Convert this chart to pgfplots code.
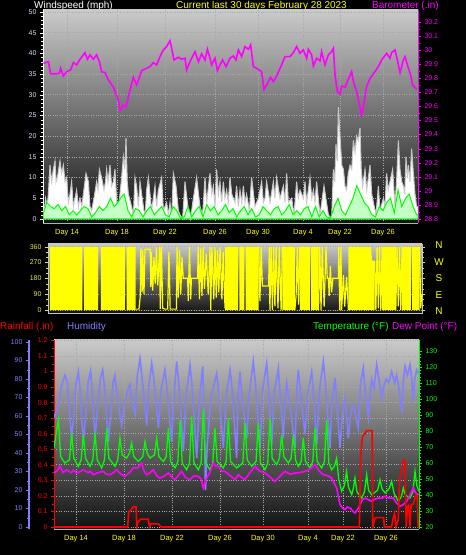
\documentclass[border=0pt]{standalone}
\usepackage{fontspec}
\setmainfont{Liberation Sans}
\usepackage{pgfplots}
\pgfplotsset{compat=1.18}

\definecolor{mag}{HTML}{FF00FF}
\definecolor{hum}{HTML}{8080FF}
\definecolor{tmp}{HTML}{00FF00}
\definecolor{rain}{HTML}{FF0000}
\definecolor{gridc}{HTML}{A8A8A8}
\definecolor{bgtop}{HTML}{CACACA}
\definecolor{bgbot}{HTML}{121212}
\definecolor{windavg}{HTML}{C4FFC4}
\definecolor{gustedge}{HTML}{C8C8C8}
\definecolor{daylab}{HTML}{FFFF00}
\definecolor{dirlab}{HTML}{E8E840}

\pgfplotsset{
  base/.style={
    scale only axis, xmin=0, xmax=30,
    /pgf/number format/assume math mode=true,
    tick label style={font=\fontsize{7}{8}\selectfont},
    tick align=outside,
    major tick length=3bp, minor tick length=2bp,
  },
  bgshade/.style={axis background/.style={shade, top color=bgtop, bottom color=bgbot}},
  dotgrid/.style={grid=major, major grid style={gridc, dotted, line width=0.6bp}},
  daylabels/.style={
    xticklabel style={daylab, font=\fontsize{7.5}{8}\selectfont},
    x tick style={draw=none},
  },
}

\begin{document}
\begin{tikzpicture}
\fill[black] (0,0) rectangle (466bp,555bp);

% ---- titles ----
\node[anchor=base west, white, font=\fontsize{10}{12}\selectfont, inner sep=0] at (34bp,546.5bp) {Windspeed (mph)};
\node[anchor=base, daylab, font=\fontsize{10}{12}\selectfont, inner sep=0] at (261.5bp,546.5bp) {Current last 30 days February 28 2023};
\node[anchor=base west, mag, font=\fontsize{10}{12}\selectfont, inner sep=0] at (372bp,546.5bp) {Barometer (.in)};

\node[anchor=base west, rain, font=\fontsize{10}{12}\selectfont, inner sep=0] at (0bp,225bp) {Rainfall (.in)};
\node[anchor=base west, hum, font=\fontsize{10}{12}\selectfont, inner sep=0] at (67bp,225bp) {Humidity};
\node[anchor=base west, tmp, font=\fontsize{10}{12}\selectfont, inner sep=0] at (313bp,225bp) {Temperature (°F)};
\node[anchor=base west, mag, font=\fontsize{10}{12}\selectfont, inner sep=0] at (392bp,225bp) {Dew Point (°F)};

\foreach \lab/\yy in {N/310,W/293,S/277,E/260,N/244}
  \node[daylab, font=\fontsize{10}{12}\selectfont, inner sep=0] at (439bp,\yy bp) {\lab};

% ---- wind speed ----
\begin{axis}[base, bgshade, dotgrid, daylabels,
  at={(43bp,332bp)}, anchor=south west, width=375bp, height=213bp,
  ymin=-0.97, ymax=50.48, ytick={0,5,...,50}, minor y tick num=4,
  axis x line*=bottom, axis y line*=left,
  x axis line style={gray!60!white, -}, y axis line style={white, -},
  xtick={1.92,5.92,9.76,13.76,17.2,20.8,23.76,27.2},
  xticklabels={Day 14,Day 18,Day 22,Day 26,Day 30,Day 4,Day 22,Day 26},
  yticklabel style={white!85!blue}, y tick style={white},
]
% gusts
\addplot[fill=white, draw=gustedge, line width=1bp] coordinates {
(0.03,0)(0.21,5)(0.33,3)(0.43,6)(0.56,13)(0.69,9)(0.83,12)(0.96,14)(1.05,9)(1.15,10)(1.36,14)(1.49,11)
(1.63,13)(1.76,9)(1.89,10)(2.03,4)(2.16,6)(2.29,9)(2.43,3)(2.56,5)(2.69,7)(2.83,3)(2.96,5)
(3.1,3)(3.23,6)(3.44,11)(3.63,9)(3.76,3)(3.89,2)(4.08,5)(4.29,9)(4.4,7)(4.51,12)(4.69,10)(4.88,7)
(5.0,9)(5.09,12)(5.2,9)(5.36,13)(5.49,8)(5.63,9)(5.76,12)(5.9,4)(6.03,2)(6.16,6)(6.29,10)(6.43,15)(6.55,12)(6.64,19.5)
(6.74,9)(6.83,6)(7.09,3)(7.23,1)(7.36,10)(7.49,8)(7.63,3)(7.76,9)(8.03,3)(8.16,0)(8.29,7)
(8.43,10)(8.69,2)(8.96,8)(9.09,3)(9.23,7)(9.49,10)(9.63,2)(9.89,4)(10.03,1)(10.16,4)
(10.29,0)(10.43,11)(10.64,8)(10.83,2)(10.96,1)(11.17,0)(11.36,9)(11.63,2)(11.81,0)(12.03,5)
(12.29,10)(12.56,3)(12.77,1)(12.96,10)(13.09,4)(13.36,11)(13.5,6)(13.63,8)(13.76,3)(13.89,12)(14.03,6)(14.16,9)
(14.29,4)(14.43,9)(14.55,5)(14.69,7)(14.82,4)(14.96,10)(15.1,6)(15.23,5)(15.36,4)(15.49,8)(15.63,3)(15.76,7)(15.9,4)(16.03,8)(16.16,4)(16.29,6)
(16.51,2)(16.69,10)(16.96,3)(17.23,5)(17.49,9)(17.63,4)(17.76,5)(17.89,9)(18.16,4)(18.43,9)(18.55,5)(18.69,10)
(18.96,5)(19.23,8)(19.36,4)(19.49,11)(19.63,4)(19.89,5)(20.08,1)(20.29,9)(20.42,5)(20.56,7)(20.83,5)(20.96,9)
(21.09,4)(21.36,10)(21.5,5)(21.63,7)(21.76,4)(21.89,9)(22.16,1)(22.48,8)(22.83,1)(23.09,0)(23.23,12)(23.34,9)(23.44,18)(23.54,14)
(23.63,27)(23.76,20)(23.9,13)(24.03,12)(24.16,8)(24.29,7)(24.42,11)(24.56,13)(24.7,12)(24.83,19)(24.96,16)(25.09,20)(25.22,19)(25.36,22)(25.46,12)(25.57,8)(25.76,12)
(25.9,7)(26.03,10)(26.16,13)(26.3,6)(26.43,4)(26.64,1)(26.83,8)(26.96,2)(27.23,5)(27.36,3)(27.49,11)(27.62,7)(27.76,9)(27.97,12)
(28.16,3)(28.3,10)(28.43,19)(28.56,12)(28.7,9)(28.83,8)(28.94,6)(29.04,15)(29.14,10)(29.23,13)(29.36,9)(29.49,17)(29.63,11)(29.76,6)(29.89,3)(30,3)
} \closedcycle;
% average wind
\addplot[fill=windavg, draw=tmp, line width=1bp] coordinates {
(0,1)(0.3,4)(0.6,3)(0.9,2.5)(1.2,3.5)(1.5,2)(1.8,3)(2.1,1)(2.4,2)(2.7,1)
(3.0,2)(3.3,3)(3.6,2.5)(3.9,0.5)(4.2,1.5)(4.5,3)(4.8,2)(5.1,3)(5.4,5)(5.7,3)
(6.0,4)(6.3,5.5)(6.5,6)(6.8,2)(7.1,0.5)(7.4,2.5)(7.7,2)(8.0,0.5)(8.3,2)(8.6,3)
(8.9,1)(9.2,2)(9.5,3)(9.8,1)(10.1,0.5)(10.4,3)(10.7,2)(11.0,0.2)(11.3,0.5)(11.6,3)
(11.9,0.5)(12.2,2)(12.5,3)(12.8,0.5)(13.1,3.5)(13.4,2)(13.7,3)(14.0,1)(14.3,2)(14.6,3.5)
(14.9,1.5)(15.2,2.5)(15.5,0.5)(15.8,2)(16.1,3)(16.4,1)(16.7,2.5)(17.0,0.5)(17.3,1)(17.6,3)
(17.9,2)(18.2,1)(18.5,2.5)(18.8,3)(19.1,1)(19.4,2)(19.7,3.5)(20.0,1)(20.3,2)(20.6,1)
(20.9,2.5)(21.2,3)(21.5,0.5)(21.8,3)(22.1,0.5)(22.4,2)(22.7,0.5)(23.0,0.2)(23.3,3)(23.6,5)
(23.9,2)(24.2,1)(24.5,3)(24.8,5)(25.1,8)(25.4,6)(25.7,4)(26.0,3)(26.3,1)(26.6,0.5)
(26.9,3)(27.2,2)(27.5,4)(27.8,5)(28.1,1.5)(28.4,7)(28.7,3)(29.0,5)(29.3,6)(29.6,3)(29.9,1)(30,1)
} \closedcycle;
\end{axis}

% ---- barometer ----
\begin{axis}[base,
  at={(43bp,332bp)}, anchor=south west, width=375bp, height=213bp,
  ymin=28.7716, ymax=30.285,
  axis y line*=right, axis x line=none,
  ytick={28.8,28.9,29.0,29.1,29.2,29.3,29.4,29.5,29.6,29.7,29.8,29.9,30.0,30.1,30.2},
  yticklabels={28.8,28.9,29,29.1,29.2,29.3,29.4,29.5,29.6,29.7,29.8,29.9,30,30.1,30.2},
  minor y tick num=1,
  yticklabel style={mag}, y axis line style={mag, -}, y tick style={mag},
]
\addplot[mag, line width=1.6bp] coordinates {
(0.03,29.906)(0.43,29.918)(0.61,29.831)(0.96,29.831)(1.31,29.835)(1.41,29.871)(1.63,29.816)(1.89,29.847)
(2.21,29.859)(2.43,29.911)(2.69,29.895)(2.96,29.935)(3.36,29.982)(3.55,29.935)(3.76,29.966)(4.03,29.935)
(4.29,29.966)(4.51,29.918)(4.69,29.847)(4.96,29.840)(5.23,29.788)(5.63,29.736)(6.03,29.646)(6.16,29.570)
(6.43,29.610)(6.64,29.598)(6.83,29.669)(7.23,29.807)(7.49,29.752)(7.89,29.854)(8.29,29.871)(8.56,29.883)
(8.83,29.911)(9.09,29.895)(9.36,29.954)(9.63,30.001)(9.89,30.025)(10.16,30.067)(10.29,30.013)(10.48,29.930)
(10.83,29.949)(11.09,29.935)(11.36,29.942)(11.49,29.859)(11.76,29.918)(12.16,29.989)(12.43,29.918)(12.69,29.973)
(12.96,29.930)(13.15,30.006)(13.36,29.942)(13.49,29.895)(13.76,29.942)(13.95,29.854)(14.16,29.895)(14.37,29.930)
(14.64,29.883)(14.96,29.942)(15.23,29.958)(15.44,29.930)(15.63,30.001)(15.89,29.954)(16.16,30.025)(16.43,30.006)
(16.61,30.037)(16.83,29.883)(17.09,29.871)(17.49,29.847)(17.68,29.722)(17.89,29.752)(18.21,29.807)(18.43,29.776)
(18.69,29.816)(19.09,29.895)(19.36,29.954)(19.76,29.954)(20.03,29.982)(20.29,30.025)(20.56,29.977)(20.83,30.001)
(21.09,29.942)(21.23,30.006)(21.49,29.966)(21.63,29.887)(21.89,29.942)(22.16,29.925)(22.29,29.989)(22.56,29.895)
(22.83,29.966)(23.09,29.989)(23.23,30.013)(23.36,29.823)(23.55,29.705)(23.76,29.688)(23.89,29.745)(24.16,29.736)
(24.43,29.793)(24.69,29.847)(24.83,29.776)(25.09,29.705)(25.49,29.539)(25.63,29.598)(25.89,29.741)(26.16,29.800)
(26.56,29.847)(26.83,29.883)(27.09,29.930)(27.49,29.977)(27.76,29.942)(27.89,29.982)(28.16,30.001)(28.35,29.930)
(28.56,29.840)(28.83,29.930)(28.96,29.954)(29.15,29.895)(29.41,29.823)(29.57,29.752)(29.89,29.722)
};
\end{axis}

% ---- wind direction ----
\begin{axis}[base, bgshade, dotgrid,
  at={(48bp,242bp)}, anchor=south west, width=374bp, height=69bp,
  ymin=-17, ymax=375, ytick={0,90,180,270,360}, minor y tick num=2,
  xtick=\empty,
  axis line style={gray!45, -},
  yticklabel style={dirlab}, y tick style={dirlab},
]
\addplot[fill=daylab, draw=none] coordinates {
(0.16,0)(0.16,358)(2.75,358)(2.75,0)(2.9,0)(2.9,358)(4.03,358)(4.03,0)(4.25,0)(4.25,358)
(6.17,358)(6.17,0)(6.3,0)(6.3,358)(7.03,358)(7.03,0)(14.2,0)(14.2,358)(15.25,358)(15.25,0)
(15.35,0)(15.35,358)(15.75,358)(15.75,0)(15.85,0)(15.85,358)(16.9,358)(16.9,0)(18.8,0)(18.8,358)
(19.8,358)(19.8,0)(20.2,0)(20.2,358)(21.0,358)(21.0,0)(21.1,0)(21.1,358)(21.7,358)(21.7,0)
(24.1,0)(24.1,358)(25.9,358)(26.0,280)(26.2,280)(26.2,0)(26.8,0)(26.8,358)(27.9,358)(27.9,0)
(28.4,0)(28.4,358)(29.1,358)(29.1,0)(29.2,0)(29.2,358)(29.8,358)(29.8,0)
} \closedcycle;
\addplot[daylab, line width=1.2bp] coordinates {
(7.03,5)(7.3,5)(7.4,80)(7.45,350)(7.55,100)(7.6,340)(7.7,90)(7.78,345)(8.2,345)(8.25,130)
(8.3,330)(8.4,110)(8.5,300)(8.6,150)(8.7,355)(8.8,140)(8.96,358)(9.0,5)(9.1,358)(9.2,10)
(9.36,5)(9.6,5)(9.7,330)(9.8,5)(10.3,5)(10.35,358)(10.45,70)(10.55,340)(10.65,90)(10.75,300)
(10.85,180)(11.2,180)(11.25,50)(11.35,358)(11.45,60)(11.5,180)(12.0,180)(12.05,358)(12.15,60)(12.25,350)
(12.35,80)(12.45,358)(12.55,120)(12.7,320)(12.85,90)(13.0,358)(13.05,0)(13.15,358)(13.3,60)(13.4,358)
(13.5,70)(13.6,340)(13.7,100)(13.8,358)(13.95,60)(14.05,330)(14.2,10)
};
\addplot[daylab, line width=1.2bp] coordinates {
(16.9,358)(17.0,50)(17.1,358)(17.2,136)(17.7,136)(17.75,358)(17.8,0)(17.9,358)(18.0,0)(18.1,358)
(18.2,20)(18.3,358)(18.45,10)(18.55,358)(18.7,0)(18.8,358)
};
\addplot[daylab, line width=1.2bp] coordinates {
(19.8,0)(19.9,80)(20.0,358)(20.1,30)(20.2,358)
};
\addplot[daylab, line width=1.2bp] coordinates {
(21.7,0)(21.8,358)(21.9,0)(22.0,358)(22.15,20)(22.3,358)(22.4,180)(22.5,180)(22.55,80)(22.65,250)
(22.75,100)(22.85,180)(23.3,180)(23.32,358)(23.4,0)(23.5,358)(23.55,0)(23.7,200)(23.8,20)(23.95,190)(24.1,0)
};
\addplot[daylab, line width=1.2bp] coordinates {
(26.2,280)(26.3,0)(26.4,358)(26.5,10)(26.6,358)(26.7,0)(26.8,358)
};
\addplot[daylab, line width=1.2bp] coordinates {
(27.9,0)(28.0,358)(28.1,20)(28.2,358)(28.3,0)(28.4,358)
};
\addplot[daylab, line width=1.2bp] coordinates {
(29.8,358)(29.9,10)(29.97,90)
};
\end{axis}

% ---- bottom panel: rain axis, background, grid ----
\begin{axis}[base, bgshade, dotgrid, daylabels,
  at={(54bp,26bp)}, anchor=south west, width=365bp, height=189bp,
  ymin=-0.0129, ymax=1.2026,
  ytick={0,0.1,0.2,0.3,0.4,0.5,0.6,0.7,0.8,0.9,1.0,1.1,1.2},
  yticklabels={0,0.1,0.2,0.3,0.4,0.5,0.6,0.7,0.8,0.9,1,1.1,1.2},
  minor y tick num=1,
  axis x line*=bottom, axis y line*=left,
  x axis line style={gray!60!white, -}, y axis line style={rain, line width=1bp, -},
  xtick={1.81,5.75,9.70,13.64,17.17,20.87,23.75,27.28},
  xticklabels={Day 14,Day 18,Day 22,Day 26,Day 30,Day 4,Day 22,Day 26},
  yticklabel style={rain}, y tick style={rain},
]
\end{axis}

% humidity scale at the far left
\begin{axis}[base,
  at={(29bp,26bp)}, anchor=south west, width=1bp, height=189bp,
  xmin=0, xmax=1, ymin=-1.08, ymax=101.1,
  ytick={0,10,...,100}, minor y tick num=1,
  axis y line*=left, axis x line=none,
  y axis line style={hum, line width=1.5bp, -},
  yticklabel style={hum}, y tick style={hum},
]
\end{axis}

% humidity data
\begin{axis}[base, hide axis,
  at={(54bp,26bp)}, anchor=south west, width=365bp, height=189bp,
  ymin=-1.08, ymax=101.1,
]
\addplot[hum, line width=1.6bp] coordinates {
(0,59)(0.15,62)(0.36,66)(0.6,76)(0.9,82)(1.1,78)(1.3,60)(1.45,48)(1.6,58)(1.8,77)(2.0,84)(2.15,74)(2.3,56)(2.41,46)
(2.6,60)(2.8,78)(3.01,84.5)(3.15,72)(3.37,48)(3.55,62)(3.8,80)(4.0,85)(4.2,72)(4.47,46)(4.65,60)
(4.85,78)(5.01,82)(5.2,70)(5.56,55)(5.8,68)(5.97,71.5)(6.1,75)(6.25,77)(6.35,70)(6.47,66)(6.66,61)(6.85,82)(7.07,91)(7.25,80)(7.62,55)
(7.8,76)(8.03,88.6)(8.2,80)(8.58,53.5)(8.8,74)(9.12,85)(9.3,74)(9.67,46)(9.85,70)(10.08,89.5)(10.25,78)(10.63,41)
(10.85,70)(11.18,87.7)(11.35,76)(11.73,37.3)(11.95,68)(12.22,86.8)(12.35,60)(12.45,20)(12.6,45)(12.9,70)(13.37,83)(13.55,72)
(13.92,42.7)(14.15,70)(14.47,85)(14.65,74)(15.01,37.3)(15.12,70)(15.29,84)(15.45,70)(15.84,48)(16.05,72)(16.38,89.5)(16.55,78)
(16.93,42.7)(17.15,74)(17.48,88.6)(17.62,76)(17.89,44.5)(18.1,72)(18.44,86)(18.6,70)(18.85,48)(19.0,70)(19.12,77.8)(19.4,66)
(19.81,42.7)(19.95,74)(20.08,85)(20.3,70)(20.63,50)(20.85,72)(21.18,84)(21.35,70)(21.59,44.5)(21.85,76)(22.14,89.5)(22.3,78)
(22.68,42.7)(22.85,68)(23.1,80.5)(23.25,66)(23.51,42.7)(23.7,60)(23.92,69.7)(24.05,60)(24.19,48)(24.4,62)(24.6,66)(24.8,60)
(25.0,53.5)(25.2,78)(25.42,86)(25.6,72)(25.84,59)(26.1,80)(26.3,75)(26.52,87.7)(26.7,80)(26.93,69.7)(27.1,76)
(27.3,80)(27.5,78)(27.75,84)(28.0,78)(28.15,82)(28.3,77)(28.45,70)(28.58,61.6)(28.7,78)(28.85,86.8)(29.05,82)(29.26,87.7)(29.4,80)(29.53,68)
(29.65,80)(29.81,85)(30,83)
};
\end{axis}

% temperature and dew point
\begin{axis}[base,
  at={(54bp,26bp)}, anchor=south west, width=365bp, height=189bp,
  ymin=18.75, ymax=136.9, ytick={20,30,...,130}, minor y tick num=4,
  axis y line*=right, axis x line=none,
  y axis line style={tmp, -}, yticklabel style={tmp}, y tick style={tmp},
]
\addplot[tmp, line width=1.3bp] coordinates {
(0,69)(0.2,80)(0.36,87)(0.55,64)(0.9,60)(1.27,62)(1.45,78.8)(1.63,63)(2.0,57.9)(2.23,62)
(2.41,77.7)(2.59,63)(2.96,57.9)(3.19,62)(3.37,78.8)(3.55,62)(3.92,56.9)(4.15,62)(4.33,81.9)(4.51,63)
(5.01,57.9)(5.24,62)(5.42,75.6)(5.6,65)(5.97,63.1)(6.2,66)(6.38,72.5)(6.56,64)(6.93,61)(7.3,64)
(7.48,73.5)(7.66,66)(7.89,63.1)(8.26,65)(8.44,75.6)(8.62,64)(8.99,61)(9.22,64)(9.4,81.9)(9.58,61)
(9.95,56.9)(10.18,61)(10.36,87)(10.54,60)(10.9,55.8)(11.14,60)(11.32,89.2)(11.5,60)(11.86,55.8)(12.09,60)
(12.27,93.3)(12.45,60)(12.82,55.8)(13.05,60)(13.23,81.9)(13.41,61)(13.92,56.9)(14.15,61)(14.33,88)(14.51,61)
(15.01,56.9)(15.52,60)(15.7,85)(15.88,62)(16.25,57.9)(16.61,61)(16.79,85)(16.97,60)(17.34,55.8)(17.57,60)
(17.75,88)(17.93,63)(18.3,59)(18.53,63)(18.71,77.7)(18.89,64)(19.26,60)(19.49,63)(19.67,77.7)(19.85,62)
(20.08,57.9)(20.31,61)(20.49,75.6)(20.67,61)(21.04,56.9)(21.27,61)(21.45,81.9)(21.63,61)(22.0,56.9)(22.23,61)
(22.41,87)(22.59,60)(22.82,55.8)(23.05,58)(23.23,63.1)(23.4,50)(23.64,42.3)(23.87,46)(24.05,54.8)(24.2,45)
(24.47,40.2)(24.6,44)(24.74,50.6)(24.9,42)(25.29,38.1)(25.52,42)(25.7,52.7)(25.85,43)(26.11,40.2)(26.6,43)
(26.79,49.6)(26.95,44)(27.21,41.3)(27.55,44)(27.75,48.5)(27.95,41)(28.3,36)(28.55,39)(28.71,44.4)(28.87,40)
(29.26,38.1)(29.5,42)(29.67,54.8)(29.82,46)(30,42.3)
};
\addplot[mag, line width=1.6bp] coordinates {
(0,53.75)(0.25,55)(0.49,57.9)(0.75,54)(1.04,55.8)(1.4,54)(1.6,55.5)(1.86,53.75)(2.1,54.5)(2.41,55.8)
(2.8,54)(3.0,54.8)(3.23,52.7)(3.6,54)(4.05,54.8)(4.3,53)(4.6,52.7)(4.9,54)(5.15,55.8)(5.5,53)
(5.84,51.7)(6.2,54)(6.52,56.9)(6.9,57)(7.2,60)(7.4,55)(7.62,52.7)(7.9,54)(8.16,55.8)(8.45,52)
(8.71,50.6)(9.1,52)(9.4,53.75)(9.7,51)(9.95,49.6)(10.2,52)(10.49,54.8)(10.8,51)(11.18,49.6)(11.5,52)
(11.86,51.7)(12.1,50)(12.27,44.4)(12.55,50.6)(12.8,54)(13.1,60)(13.3,58)(13.5,57.9)(13.8,55)(14.05,54.8)
(14.5,52)(14.88,49.6)(15.15,52.7)(15.4,51)(15.7,49.6)(16.1,54)(16.52,57.9)(16.9,55)(17.34,53.75)(17.8,51)
(18.16,48.5)(18.6,52)(18.99,54.8)(19.4,53)(19.81,53.75)(20.2,54)(20.63,54.8)(21.0,56)(21.45,59)(21.8,55)
(22.14,52.7)(22.5,52)(22.82,50.6)(23.23,44.4)(23.51,34)(23.7,32)(23.92,30.8)(24.1,32.5)(24.33,31.9)(24.55,30)
(24.74,28.75)(24.95,31)(25.15,34)(25.35,37)(25.56,38.1)(25.85,37)(26.11,36)(26.4,37.5)(26.66,38.1)(26.95,38)
(27.21,39.2)(27.55,38)(27.89,38.1)(28.15,35)(28.44,32.9)(28.7,34)(28.99,36)(29.25,40)(29.53,44.4)(29.75,41)(30,40.2)
};
\end{axis}

% rainfall data
\begin{axis}[base, hide axis,
  at={(54bp,26bp)}, anchor=south west, width=365bp, height=189bp,
  ymin=-0.0129, ymax=1.2026,
]
\addplot[rain, line width=1.6bp] coordinates {
(0,0)(6.05,0)(6.15,0.1)(6.35,0.11)(6.5,0.13)(6.75,0.13)(6.8,0)(6.9,0.03)(7.1,0.05)(7.75,0.05)
(7.85,0)(7.95,0.02)(8.6,0.02)(8.8,0)(25.1,0)(25.2,0.45)(25.35,0.58)(25.55,0.6)(25.7,0.62)(26.15,0.62)
(26.2,0)(26.35,0.05)(26.45,0.06)(27.1,0.06)(27.15,0)(27.75,0)(27.85,0.05)(28.0,0.09)(28.1,0)(28.3,0.05)
(28.4,0.3)(28.55,0.35)(28.7,0.43)(28.85,0.42)(28.95,0)(29.05,0.13)(29.15,0.14)(29.25,0)(29.35,0.14)(29.55,0.15)
(29.7,0.2)(29.85,0.2)(29.93,0)(30,0)
};
\end{axis}
\end{tikzpicture}
\end{document}
